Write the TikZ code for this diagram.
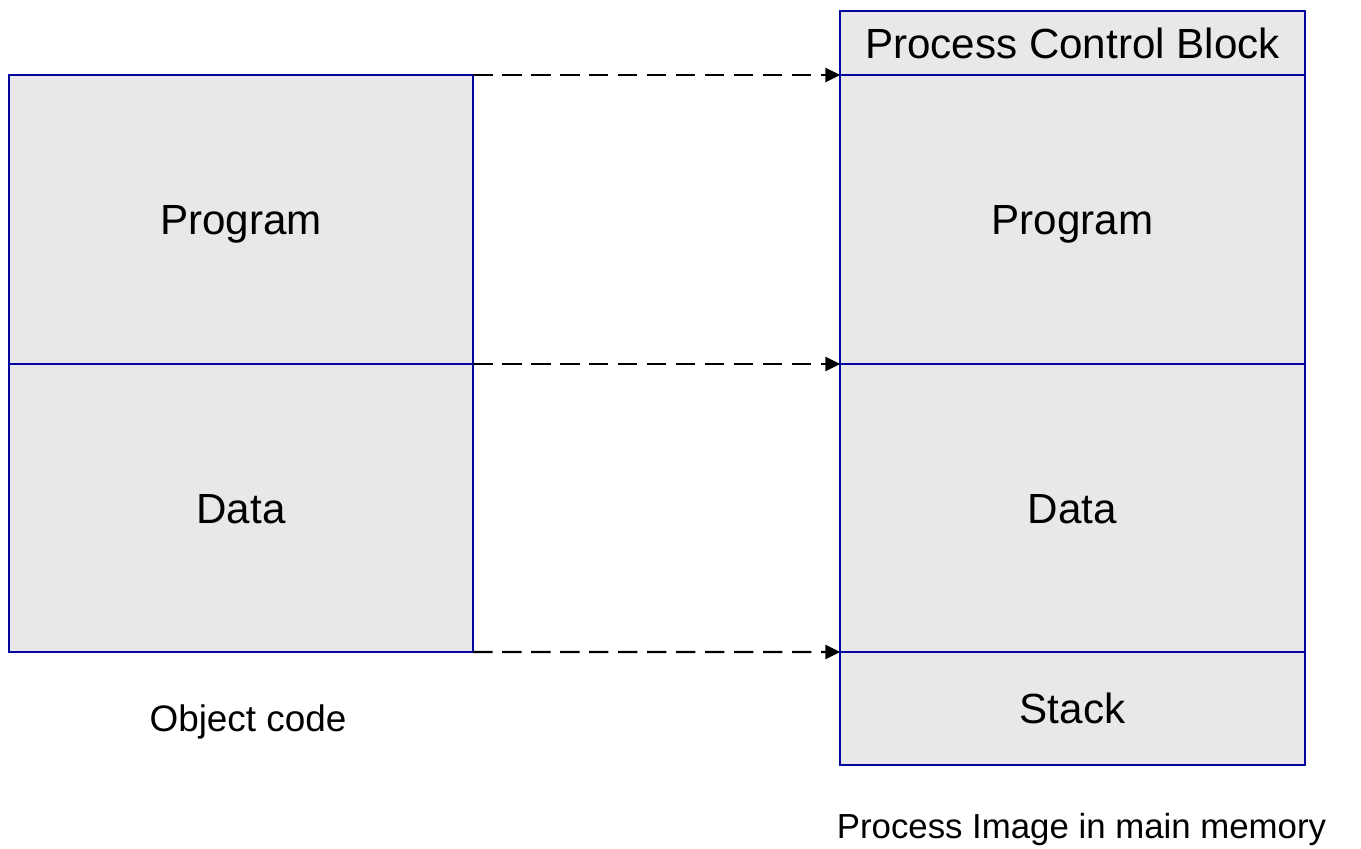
\documentclass[tikz,border=0pt]{standalone}
\usepackage{fontspec}
\setmainfont{Liberation Sans}
\usetikzlibrary{arrows.meta}

\definecolor{segblue}{HTML}{0505A0}
\definecolor{segfill}{HTML}{E8E8E8}

\tikzset{
  seg/.style={draw=segblue,fill=segfill,line width=1.2pt,inner sep=0pt,outer sep=0pt,
    minimum width=9.29cm,text height=17.2pt,text depth=0pt,
    font=\fontsize{24}{28}\selectfont},
  maparrow/.style={line width=1.3pt,dash pattern=on 11pt off 5.5pt,
    -{Triangle[length=8.5pt,width=8pt]}},
  caption/.style={inner sep=0pt,text depth=0pt}
}

\begin{document}
\begin{tikzpicture}[x=0.02cm,y=-0.02cm]
   \useasboundingbox (0,0) rectangle (1361,848);

   % object code
   \node[seg,minimum height=5.78cm] (lprog) at (241,219.5) {Program};
   \node[seg,minimum height=5.76cm] (ldata) at (241,508) {Data};
   \node[caption,text height=15pt,font=\fontsize{21}{24}\selectfont] (lcap) at (248,718) {Object code};

   % process image
   \node[seg,minimum height=1.28cm] (rpcb) at (1072.5,43) {Process Control Block};
   \node[seg,minimum height=5.78cm] (rprog) at (1072.5,219.5) {Program};
   \node[seg,minimum height=5.76cm] (rdata) at (1072.5,508) {Data};
   \node[seg,minimum height=2.26cm] (rstack) at (1072.5,708.5) {Stack};
   \node[caption,text height=14.2pt,font=\fontsize{19.8}{24}\selectfont] (rcap) at (1081.5,826) {Process Image in main memory};

   \draw[maparrow] (lprog.north east) -- (rprog.north west);
   \draw[maparrow] (ldata.north east) -- (rdata.north west);
   \draw[maparrow] (ldata.south east) -- (rstack.north west);
  \end{tikzpicture}
\end{document}
